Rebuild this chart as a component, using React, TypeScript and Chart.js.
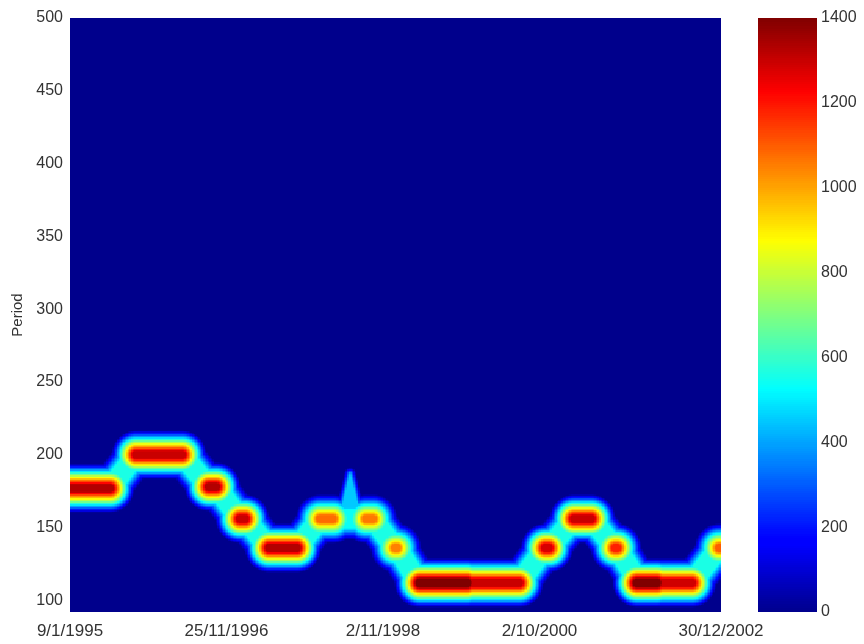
import React, { useEffect, useRef } from "react";
import { Chart, registerables } from "chart.js";
Chart.register(...registerables);

// ---- axes ----
const X_MIN = 0;
const X_MAX = 2080;
const Y_MIN = 92;
const Y_MAX = 500;
const X_TICK_POS = [0, 500, 1000, 1500, 2080];
const X_TICK_LABELS = ["9/1/1995", "25/11/1996", "2/11/1998", "2/10/2000", "30/12/2002"];
const Y_TICKS = [100, 150, 200, 250, 300, 350, 400, 450, 500];
const COLOR_MIN = 0;
const COLOR_MAX = 1400;
const COLOR_TICKS = [0, 200, 400, 600, 800, 1000, 1200, 1400];

// ---- ridge blobs (time index range, period, peak power) ----
const BLOB_START = [-60, 211, 444, 543, 636, 799, 946, 1038, 1115, 1518, 1610, 1741, 1818, 2074];
const BLOB_END = [128, 358, 467, 559, 725, 840, 968, 1045, 1435, 1530, 1665, 1748, 1987, 2110];
const BLOB_PERIOD = [177, 200, 178, 156, 136, 156, 156, 136, 112, 136, 156, 136, 112, 136];
const BLOB_PEAK = [1330, 1300, 1330, 1300, 1330, 1080, 1060, 1050, 1300, 1280, 1300, 1180, 1290, 1100];

// darker cores inside long blobs
const CORE_START = [1118, 1812];
const CORE_END = [1268, 1875];
const CORE_PERIOD = [112, 112];
const CORE_PEAK = [1430, 1420];

// power level along the ridge between blobs
const BRIDGE_PEAK = [560, 560, 560, 560, 560, 540, 560, 560, 560, 560, 560, 560, 560];

// narrow spike (cone)
const SPIKE_T = [895];
const SPIKE_BASE = [156];
const SPIKE_TIP = [187];
const SPIKE_PEAK = [450];

const T_STEP = 5;
const P_STEP = 1;

const FONT = "'Liberation Sans', Arial, sans-serif";
const TEXT_COLOR = "#333";

function jet(t: number): [number, number, number] {
  const c = (v: number) => Math.max(0, Math.min(1, v));
  const r = c(Math.min(4 * t - 1.5, -4 * t + 4.5));
  const g = c(Math.min(4 * t - 0.5, -4 * t + 3.5));
  const b = c(Math.min(4 * t + 0.55, -4 * t + 2.5));
  return [Math.round(r * 255), Math.round(g * 255), Math.round(b * 255)];
}

const COLOR_CACHE: string[] = [];
for (let i = 0; i <= 512; i++) {
  const [r, g, b] = jet(i / 512);
  COLOR_CACHE.push(`rgb(${r},${g},${b})`);
}
function colorFor(v: number) {
  const t = Math.max(0, Math.min(1, (v - COLOR_MIN) / (COLOR_MAX - COLOR_MIN)));
  return COLOR_CACHE[Math.round(t * 512)];
}

type Seg = { x0: number; y0: number; x1: number; y1: number; v: number; ra: number; rb: number; R: number };

function segValue(px: number, py: number, s: Seg) {
  const dx = s.x1 - s.x0;
  const dy = s.y1 - s.y0;
  const L = dx * dx + dy * dy;
  let u = L > 0 ? ((px - s.x0) * dx + (py - s.y0) * dy) / L : 0;
  u = Math.max(0, Math.min(1, u));
  const qx = s.x0 + u * dx - px;
  const qy = s.y0 + u * dy - py;
  const d = Math.sqrt(qx * qx + qy * qy);
  const r0 = s.ra + (s.rb - s.ra) * u;
  const f = 1 - Math.max(0, d - r0) / s.R;
  return f > 0 ? s.v * f : 0;
}

const heatmapPlugin = {
  id: "heatmap",
  beforeDatasetsDraw(chart: any) {
    const { ctx, chartArea, scales } = chart;
    const xs = scales.x;
    const ys = scales.y;
    const segs: Seg[] = [];
    const mk = (t0: number, p0: number, t1: number, p1: number, v: number, ra: number, rb: number, R: number) =>
      segs.push({
        x0: xs.getPixelForValue(t0),
        y0: ys.getPixelForValue(p0),
        x1: xs.getPixelForValue(t1),
        y1: ys.getPixelForValue(p1),
        v,
        ra,
        rb,
        R,
      });
    for (let i = 0; i < BLOB_START.length; i++) {
      mk(BLOB_START[i], BLOB_PERIOD[i], BLOB_END[i], BLOB_PERIOD[i], BLOB_PEAK[i], 3.5, 3.5, 21);
      if (i < BLOB_START.length - 1) {
        mk(BLOB_END[i], BLOB_PERIOD[i], BLOB_START[i + 1], BLOB_PERIOD[i + 1], BRIDGE_PEAK[i], 9, 9, 12);
      }
    }
    for (let i = 0; i < CORE_START.length; i++) {
      mk(CORE_START[i], CORE_PERIOD[i], CORE_END[i], CORE_PERIOD[i], CORE_PEAK[i], 3.5, 3.5, 21);
    }
    for (let i = 0; i < SPIKE_T.length; i++) {
      mk(SPIKE_T[i], SPIKE_BASE[i], SPIKE_T[i], SPIKE_TIP[i], SPIKE_PEAK[i], 11, 0, 6);
    }
    ctx.save();
    ctx.beginPath();
    ctx.rect(chartArea.left, chartArea.top, chartArea.right - chartArea.left, chartArea.bottom - chartArea.top);
    ctx.clip();
    for (let t = X_MIN; t < X_MAX; t += T_STEP) {
      const xa = Math.round(xs.getPixelForValue(t));
      const xb = Math.round(xs.getPixelForValue(t + T_STEP));
      if (xb <= xa) continue;
      const cx = (xa + xb) / 2;
      for (let p = Y_MIN; p < Y_MAX; p += P_STEP) {
        const ya = Math.round(ys.getPixelForValue(p + P_STEP));
        const yb = Math.round(ys.getPixelForValue(p));
        if (yb <= ya) continue;
        const cy = (ya + yb) / 2;
        let val = 0;
        for (let k = 0; k < segs.length; k++) {
          const vv = segValue(cx, cy, segs[k]);
          if (vv > val) val = vv;
        }
        ctx.fillStyle = colorFor(val);
        ctx.fillRect(xa, ya, xb - xa, yb - ya);
      }
    }
    ctx.restore();
  },
};

const colorbarPlugin = {
  id: "colorbar",
  beforeDatasetsDraw(chart: any) {
    const { ctx, chartArea, scales } = chart;
    const ys = scales.y;
    const step = 5;
    for (let v = COLOR_MIN; v < COLOR_MAX; v += step) {
      const ya = Math.round(ys.getPixelForValue(v + step));
      const yb = Math.round(ys.getPixelForValue(v));
      if (yb <= ya) continue;
      ctx.fillStyle = colorFor(v + step / 2);
      ctx.fillRect(chartArea.left, ya, chartArea.right - chartArea.left, yb - ya);
    }
  },
};

export default function App() {
  const mainRef = useRef<HTMLCanvasElement | null>(null);
  const barRef = useRef<HTMLCanvasElement | null>(null);

  useEffect(() => {
    if (!mainRef.current || !barRef.current) return;
    const tickFont = { family: FONT, size: 16 };
    const main = new Chart(mainRef.current, {
      type: "scatter",
      data: { datasets: [{ data: [] }] },
      options: {
        responsive: false,
        animation: false,
        layout: { padding: { left: 0, top: 18, right: 143, bottom: 0 } },
        plugins: { legend: { display: false }, tooltip: { enabled: false } },
        scales: {
          x: {
            type: "linear",
            min: X_MIN,
            max: X_MAX,
            grid: { display: false, drawTicks: false },
            border: { display: false },
            afterBuildTicks: (s: any) => {
              s.ticks = X_TICK_POS.map((v) => ({ value: v }));
            },
            afterFit: (s: any) => {
              s.height = 32;
            },
            ticks: {
              autoSkip: false,
              maxRotation: 0,
              padding: 9,
              color: TEXT_COLOR,
              font: { family: FONT, size: 17 },
              callback: (v: any) => {
                const i = X_TICK_POS.indexOf(Number(v));
                return i >= 0 ? X_TICK_LABELS[i] : "";
              },
            },
          },
          y: {
            type: "linear",
            min: Y_MIN,
            max: Y_MAX,
            grid: { display: false, drawTicks: false },
            border: { display: false },
            afterBuildTicks: (s: any) => {
              s.ticks = Y_TICKS.map((v) => ({ value: v }));
            },
            afterFit: (s: any) => {
              s.width = 70;
            },
            title: {
              display: true,
              text: "Period",
              color: TEXT_COLOR,
              font: { family: FONT, size: 15 },
              padding: { top: 9, bottom: 0 },
            },
            ticks: { padding: 7, color: TEXT_COLOR, font: tickFont, callback: (v: any) => String(v) },
          },
        },
      },
      plugins: [heatmapPlugin],
    } as any);

    const bar = new Chart(barRef.current, {
      type: "scatter",
      data: { datasets: [{ data: [] }] },
      options: {
        responsive: false,
        animation: false,
        layout: { padding: { left: 758, top: 18, right: 0, bottom: 32 } },
        plugins: { legend: { display: false }, tooltip: { enabled: false } },
        scales: {
          x: { type: "linear", display: false, min: 0, max: 1 },
          y: {
            type: "linear",
            position: "right",
            min: COLOR_MIN,
            max: COLOR_MAX,
            grid: { display: false, drawTicks: false },
            border: { display: false },
            afterBuildTicks: (s: any) => {
              s.ticks = COLOR_TICKS.map((v) => ({ value: v }));
            },
            afterFit: (s: any) => {
              s.width = 47;
            },
            ticks: { padding: 4, color: TEXT_COLOR, font: tickFont, callback: (v: any) => String(v) },
          },
        },
      },
      plugins: [colorbarPlugin],
    } as any);

    return () => {
      main.destroy();
      bar.destroy();
    };
  }, []);

  return (
    <div style={{ position: "absolute", left: 0, top: 0, width: 864, height: 644, background: "#fff" }}>
      <canvas ref={mainRef} width={864} height={644} style={{ position: "absolute", left: 0, top: 0 }} />
      <canvas ref={barRef} width={864} height={644} style={{ position: "absolute", left: 0, top: 0 }} />
    </div>
  );
}
